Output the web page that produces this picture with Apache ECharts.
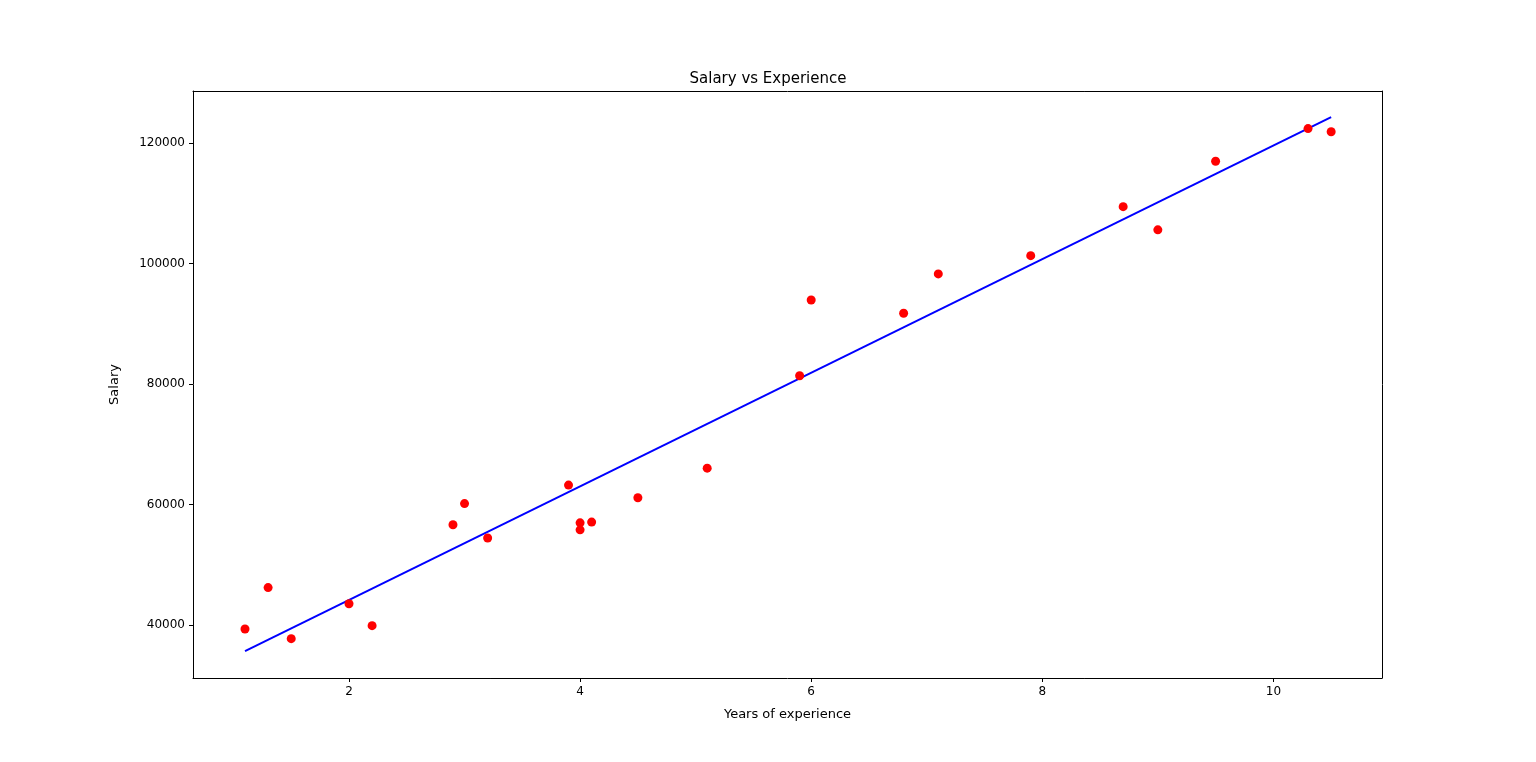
<!DOCTYPE html>
<html>
<head>
<meta charset="utf-8">
<script src="https://cdn.jsdelivr.net/npm/echarts@6/dist/echarts.min.js"></script>
<style>html,body{margin:0;padding:0;background:#fff}#chart{width:1536px;height:762px}</style>
</head>
<body>
<div id="chart"></div>
<script>
// training data points
var yearsExp = [1.1, 1.3, 1.5, 2.0, 2.2, 2.9, 3.0, 3.2, 3.9, 4.0, 4.0, 4.1, 4.5, 5.1, 5.9, 6.0, 6.8, 7.1, 7.9, 8.7, 9.0, 9.5, 10.3, 10.5];
var salary = [39343, 46205, 37731, 43525, 39891, 56642, 60150, 54445, 63218, 55794, 56957, 57081, 61111, 66029, 81363, 93940, 91738, 98273, 101302, 109431, 105582, 116969, 122391, 121872];
// fitted line ends
var fitX = [1.1, 10.5];
var fitY = [35680, 124300];
var xTicks = [2, 4, 6, 8, 10];
var yTicks = [40000, 60000, 80000, 100000, 120000];

var pts = yearsExp.map(function(x, i){ return [x, salary[i]]; });
var linePts = fitX.map(function(x, i){ return [x, fitY[i]]; });

var font = 'DejaVu Sans';
var chart = echarts.init(document.getElementById('chart'));
chart.setOption({
    animation:false,
    title:{
        text:'Salary vs Experience',
        left:'center', top:67,
        textStyle:{fontFamily:font, fontSize:15, fontWeight:'normal', color:'#000'}
    },
    grid:{left:193, right:154, top:91, bottom:84},
    xAxis:[
        {
            type:'value', min:0.65, max:10.94,
            name:'Years of experience', nameLocation:'middle', nameGap:30,
            nameTextStyle:{fontFamily:font, fontSize:13, color:'#000'},
            axisLine:{lineStyle:{color:'#000', width:1}},
            axisTick:{show:true, length:4, lineStyle:{color:'#000'}, customValues:xTicks},
            axisLabel:{fontFamily:font, fontSize:12, color:'#000', customValues:xTicks,
                formatter:function(v){ return String(v); }},
            splitLine:{show:false}
        },
        {
            type:'value', position:'top', min:0.65, max:10.94,
            axisLine:{lineStyle:{color:'#000', width:1}},
            axisTick:{show:false}, axisLabel:{show:false}, splitLine:{show:false}
        }
    ],
    yAxis:[
        {
            type:'value', min:31203, max:128630,
            name:'Salary', nameLocation:'middle', nameGap:72,
            nameTextStyle:{fontFamily:font, fontSize:13, color:'#000'},
            axisLine:{show:true, lineStyle:{color:'#000', width:1}},
            axisTick:{show:true, length:4, lineStyle:{color:'#000'}, customValues:yTicks},
            axisLabel:{fontFamily:font, fontSize:12, color:'#000', customValues:yTicks,
                formatter:function(v){ return String(v); }},
            splitLine:{show:false}
        },
        {
            type:'value', position:'right', min:31203, max:128630,
            axisLine:{show:true, lineStyle:{color:'#000', width:1}},
            axisTick:{show:false}, axisLabel:{show:false}, splitLine:{show:false}
        }
    ],
    series:[
        {
            type:'scatter', data:pts, symbolSize:9,
            itemStyle:{color:'#ff0000', opacity:1}, z:3
        },
        {
            type:'line', data:linePts, showSymbol:false,
            lineStyle:{color:'#0000ff', width:2}, z:2
        }
    ]
});
</script>
</body>
</html>
